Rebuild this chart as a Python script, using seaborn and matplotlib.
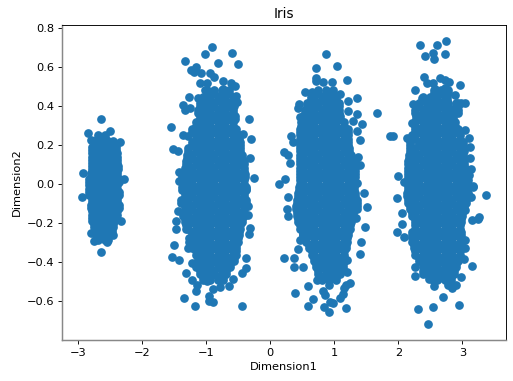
import pandas as pd
import seaborn as sns
import matplotlib.pyplot as plt

# loose points around each group
edge_x = [
    -2.63, -2.84, -2.49, -2.79, -2.34, -2.92, -2.28, -2.94, -2.32, -2.745, -2.55, -2.63, -2.45, -2.79,
    -0.90, -1.016, -0.60, -1.333, -0.81, -0.495, -1.234, -1.15, -1.19, -1.07, -0.94, -0.87, -1.10, -0.99,
    -0.734, -0.61, -0.547, -1.016, -0.73, -0.66, -0.536, -0.52, -1.26, -1.354, -1.33, -1.25, -1.12, -0.333,
    -1.55, -1.354, -1.277, -0.30, -0.417, -1.51, -1.43, -0.3125, -0.245, -1.42, -1.42,
    -0.37, -0.35, -0.34, -0.317, -0.328, -1.43, -1.47, -1.46, -1.50, -1.286, -1.526, -1.427, -0.38, -0.38,
    -0.432, -0.573, -1.31, -1.22, -1.135, -1.156, -0.99, -0.635, -0.78, -0.886, -0.948, -1.35, -0.886,
    -0.953, -1.167, -0.432, -1.22,
    0.865, 0.714, 1.042, 0.714, 0.714, 0.833, 0.964, 1.193, 0.542, 0.651, 1.36, 1.219, 1.094, 0.453, 0.443,
    1.219, 1.36, 1.661, 1.286, 1.432, 1.354, 0.469, 0.323, 0.365, 1.406, 1.875, 0.224, 0.286, 0.318, 1.37,
    1.406, 0.229, 0.135, 1.354, 1.458, 1.51, 0.281, 0.271, 0.276, 1.344, 1.474, 1.417, 1.396, 0.469, 0.432,
    0.224, 0.375, 0.375, 0.521, 0.599, 0.391, 0.667, 0.599, 0.839, 0.927, 1.177, 0.9375, 0.974, 1.094, 1.13,
    1.146, 1.25, 1.1875, 0.859, 0.818, 0.927, 0.729, 1.198, 1.198,
    2.333, 2.599, 2.75, 2.724, 2.537, 2.422, 2.552, 2.396, 2.656, 2.787, 2.734, 2.958, 2.448, 2.537, 2.734,
    2.266, 2.88, 2.578, 2.224, 3.047, 2.985, 2.37, 1.912, 3.047, 3.11, 2.135, 3.125, 3.125, 3.141, 3.10,
    1.995, 3.161, 2.083, 2.214,
    3.375, 3.161, 3.141, 1.979, 2.057, 3.255, 3.245, 3.151, 3.047, 2.057, 1.979, 2.083, 3.047, 3.047, 3.02,
    3.151, 2.985, 2.266, 2.255, 2.484, 2.552, 2.62, 2.771, 2.839, 2.906, 2.703, 2.537, 2.307, 2.948, 2.458,
]
edge_y = [
    0.33, 0.263, 0.272, 0.226, 0.214, 0.055, 0.026, -0.067, -0.191, -0.291, -0.30, -0.35, -0.262, -0.25,
    0.70, 0.663, 0.672, 0.631, 0.617, 0.614, 0.585, 0.598, 0.573, 0.568, 0.568, 0.55, 0.516, 0.516,
    0.528, 0.516, 0.503, 0.482, 0.485, 0.468, 0.451, 0.422, 0.443, 0.405, 0.38, 0.391, 0.44, 0.335,
    0.289, 0.25, 0.246, 0.229, 0.256, 0.179, 0.166, 0.132, 0.029, 0.063, 0.017,
    -0.027, -0.113, -0.159, -0.227, -0.258, -0.137, -0.19, -0.229, -0.311, -0.328, -0.376, -0.391, -0.378, -0.432,
    -0.458, -0.486, -0.458, -0.492, -0.516, -0.55, -0.496, -0.525, -0.527, -0.54, -0.573, -0.586, -0.604,
    -0.60, -0.627, -0.624, -0.407,
    0.663, 0.596, 0.602, 0.542, 0.525, 0.523, 0.523, 0.53, 0.472, 0.472, 0.44, 0.426, 0.462, 0.41, 0.391,
    0.371, 0.356, 0.362, 0.32, 0.306, 0.272, 0.342, 0.243, 0.217, 0.226, 0.246, 0.163, 0.146, 0.106, 0.14,
    0.098, 0.026, 0.002, 0.007, -0.048, -0.116, -0.065, -0.13, -0.162, -0.176, -0.22, -0.30, -0.357, -0.287, -0.335,
    -0.381, -0.381, -0.424, -0.427, -0.523, -0.561, -0.59, -0.624, -0.631, -0.657, -0.636, -0.603, -0.612, -0.586, -0.566,
    -0.535, -0.506, -0.52, -0.57, -0.547, -0.518, -0.492, -0.39, -0.45,
    0.709, 0.713, 0.73, 0.667, 0.67, 0.656, 0.639, 0.55, 0.542, 0.52, 0.53, 0.506, 0.516, 0.516, 0.49,
    0.482, 0.456, 0.485, 0.41, 0.414, 0.414, 0.44, 0.246, 0.277, 0.234, 0.234, 0.19, 0.132, 0.075, 0.046,
    0.041, -0.01, 0.012, 0.31,
    -0.056, -0.014, -0.068, -0.073, -0.15, -0.168, -0.18, -0.185, -0.133, -0.207, -0.248, -0.27, -0.287, -0.33, -0.386,
    -0.42, -0.475, -0.427, -0.47, -0.489, -0.523, -0.489, -0.518, -0.535, -0.516, -0.578, -0.633, -0.641, -0.62, -0.716,
]

# the solid middle of the groups, rows of estimated positions (single points can't be told apart there)
small_y = [0.25, 0.22, 0.19, 0.157, 0.124, 0.091, 0.058, 0.025, -0.008, -0.041, -0.074, -0.107, -0.14, -0.173, -0.206, -0.239, -0.272]
small_y2 = [0.235, 0.205, 0.174, 0.14, 0.108, 0.075, 0.042, 0.008, -0.025, -0.058, -0.09, -0.124, -0.157, -0.19, -0.222, -0.255, -0.285]
small_x = [
    [-2.68, -2.58],
    [-2.73, -2.63, -2.53, -2.45],
    [-2.78, -2.68, -2.58, -2.48, -2.41],
    [-2.78, -2.73, -2.63, -2.53, -2.43, -2.39],
    [-2.78, -2.68, -2.58, -2.48, -2.39],
    [-2.78, -2.73, -2.63, -2.53, -2.43, -2.37],
    [-2.80, -2.68, -2.58, -2.48, -2.38],
    [-2.82, -2.73, -2.63, -2.53, -2.43, -2.35],
    [-2.83, -2.78, -2.68, -2.58, -2.48, -2.38],
    [-2.83, -2.73, -2.63, -2.53, -2.43, -2.36],
    [-2.78, -2.68, -2.58, -2.48, -2.38],
    [-2.79, -2.73, -2.63, -2.53, -2.43, -2.36],
    [-2.78, -2.68, -2.58, -2.48, -2.39],
    [-2.78, -2.73, -2.63, -2.53, -2.43],
    [-2.74, -2.68, -2.58, -2.48, -2.45],
    [-2.73, -2.63, -2.53, -2.47],
    [-2.68, -2.58, -2.52],
]

row_y = [0.48, 0.447, 0.414, 0.381, 0.348, 0.315, 0.282, 0.249, 0.216, 0.183, 0.15, 0.117, 0.084, 0.051, 0.018,
         -0.015, -0.048, -0.081, -0.114, -0.147, -0.18, -0.213, -0.246, -0.279, -0.312, -0.345, -0.378, -0.411, -0.444, -0.477]
row_y2 = [0.464, 0.43, 0.398, 0.365, 0.332, 0.298, 0.266, 0.232, 0.2, 0.166, 0.134, 0.1, 0.068, 0.034, 0.002,
          -0.032, -0.064, -0.098, -0.13, -0.164, -0.196, -0.23, -0.262, -0.296, -0.328, -0.362, -0.394, -0.428, -0.46, -0.49]
left_x = [
    [-0.985, -0.87, -0.755, -0.64],
    [-1.045, -0.93, -0.815, -0.70, -0.585],
    [-1.10, -0.985, -0.87, -0.755, -0.64, -0.56],
    [-1.13, -1.045, -0.93, -0.815, -0.70, -0.585],
    [-1.10, -0.985, -0.87, -0.755, -0.64, -0.54],
    [-1.16, -1.045, -0.93, -0.815, -0.70, -0.585],
    [-1.215, -1.10, -0.985, -0.87, -0.755, -0.64, -0.535],
    [-1.16, -1.045, -0.93, -0.815, -0.70, -0.585, -0.49],
    [-1.215, -1.10, -0.985, -0.87, -0.755, -0.64, -0.525, -0.47],
    [-1.275, -1.16, -1.045, -0.93, -0.815, -0.70, -0.585, -0.47],
    [-1.30, -1.215, -1.10, -0.985, -0.87, -0.755, -0.64, -0.525, -0.43],
    [-1.31, -1.275, -1.16, -1.045, -0.93, -0.815, -0.70, -0.585, -0.47, -0.41],
    [-1.33, -1.215, -1.10, -0.985, -0.87, -0.755, -0.64, -0.525, -0.41],
    [-1.37, -1.275, -1.16, -1.045, -0.93, -0.815, -0.70, -0.585, -0.47, -0.39],
    [-1.33, -1.215, -1.10, -0.985, -0.87, -0.755, -0.64, -0.525, -0.41],
    [-1.38, -1.275, -1.16, -1.045, -0.93, -0.815, -0.70, -0.585, -0.47, -0.38],
    [-1.33, -1.215, -1.10, -0.985, -0.87, -0.755, -0.64, -0.525, -0.41],
    [-1.39, -1.275, -1.16, -1.045, -0.93, -0.815, -0.70, -0.585, -0.47, -0.38],
    [-1.33, -1.215, -1.10, -0.985, -0.87, -0.755, -0.64, -0.525, -0.41],
    [-1.36, -1.275, -1.16, -1.045, -0.93, -0.815, -0.70, -0.585, -0.47, -0.40],
    [-1.33, -1.215, -1.10, -0.985, -0.87, -0.755, -0.64, -0.525, -0.44],
    [-1.31, -1.275, -1.16, -1.045, -0.93, -0.815, -0.70, -0.585, -0.47],
    [-1.215, -1.10, -0.985, -0.87, -0.755, -0.64, -0.525, -0.48],
    [-1.26, -1.16, -1.045, -0.93, -0.815, -0.70, -0.585, -0.50],
    [-1.215, -1.10, -0.985, -0.87, -0.755, -0.64, -0.525],
    [-1.16, -1.045, -0.93, -0.815, -0.70, -0.585, -0.53],
    [-1.13, -1.10, -0.985, -0.87, -0.755, -0.64, -0.56],
    [-1.16, -1.045, -0.93, -0.815, -0.70, -0.62],
    [-1.10, -0.985, -0.87, -0.755, -0.68],
    [-1.045, -0.93, -0.815, -0.74],
]
middle_x = [
    [0.75, 0.865, 0.98],
    [0.64, 0.69, 0.805, 0.92, 1.035],
    [0.58, 0.635, 0.75, 0.865, 0.98, 1.07],
    [0.55, 0.575, 0.69, 0.805, 0.92, 1.035, 1.08],
    [0.52, 0.635, 0.75, 0.865, 0.98, 1.095],
    [0.49, 0.575, 0.69, 0.805, 0.92, 1.035, 1.15],
    [0.46, 0.52, 0.635, 0.75, 0.865, 0.98, 1.095, 1.21],
    [0.46, 0.575, 0.69, 0.805, 0.92, 1.035, 1.15, 1.22],
    [0.47, 0.52, 0.635, 0.75, 0.865, 0.98, 1.095, 1.21],
    [0.47, 0.575, 0.69, 0.805, 0.92, 1.035, 1.15, 1.23],
    [0.46, 0.52, 0.635, 0.75, 0.865, 0.98, 1.095, 1.21, 1.27],
    [0.46, 0.575, 0.69, 0.805, 0.92, 1.035, 1.15, 1.265, 1.33],
    [0.46, 0.52, 0.635, 0.75, 0.865, 0.98, 1.095, 1.21, 1.325],
    [0.46, 0.575, 0.69, 0.805, 0.92, 1.035, 1.15, 1.265, 1.32],
    [0.46, 0.52, 0.635, 0.75, 0.865, 0.98, 1.095, 1.21, 1.31],
    [0.45, 0.575, 0.69, 0.805, 0.92, 1.035, 1.15, 1.265, 1.31],
    [0.43, 0.52, 0.635, 0.75, 0.865, 0.98, 1.095, 1.21, 1.325],
    [0.42, 0.46, 0.575, 0.69, 0.805, 0.92, 1.035, 1.15, 1.265, 1.35],
    [0.41, 0.52, 0.635, 0.75, 0.865, 0.98, 1.095, 1.21, 1.325, 1.36],
    [0.42, 0.46, 0.575, 0.69, 0.805, 0.92, 1.035, 1.15, 1.265, 1.30],
    [0.43, 0.52, 0.635, 0.75, 0.865, 0.98, 1.095, 1.21, 1.26],
    [0.47, 0.575, 0.69, 0.805, 0.92, 1.035, 1.15, 1.24],
    [0.51, 0.52, 0.635, 0.75, 0.865, 0.98, 1.095, 1.21],
    [0.56, 0.69, 0.805, 0.92, 1.035, 1.15, 1.20],
    [0.61, 0.635, 0.75, 0.865, 0.98, 1.095, 1.18],
    [0.65, 0.69, 0.805, 0.92, 1.035, 1.15],
    [0.69, 0.75, 0.865, 0.98, 1.095, 1.15],
    [0.72, 0.805, 0.92, 1.035, 1.13],
    [0.75, 0.865, 0.98, 1.095],
    [0.805, 0.92, 1.035],
]
right_x = [
    [2.55, 2.67, 2.78],
    [2.38, 2.495, 2.61, 2.725, 2.76],
    [2.32, 2.44, 2.55, 2.67, 2.78, 2.90, 2.93],
    [2.265, 2.38, 2.495, 2.61, 2.725, 2.84, 2.93],
    [2.28, 2.32, 2.44, 2.55, 2.67, 2.78, 2.85],
    [2.265, 2.38, 2.495, 2.61, 2.725, 2.84, 2.89],
    [2.255, 2.32, 2.44, 2.55, 2.67, 2.78, 2.90, 2.93],
    [2.22, 2.265, 2.38, 2.495, 2.61, 2.725, 2.84, 2.955],
    [2.19, 2.32, 2.44, 2.55, 2.67, 2.78, 2.90, 3.01],
    [2.18, 2.265, 2.38, 2.495, 2.61, 2.725, 2.84, 2.955, 3.03],
    [2.16, 2.21, 2.32, 2.44, 2.55, 2.67, 2.78, 2.90, 3.01],
    [2.15, 2.265, 2.38, 2.495, 2.61, 2.725, 2.84, 2.955, 3.03],
    [2.15, 2.21, 2.32, 2.44, 2.55, 2.67, 2.78, 2.90, 3.01, 3.04],
    [2.15, 2.265, 2.38, 2.495, 2.61, 2.725, 2.84, 2.955, 3.07],
    [2.15, 2.21, 2.32, 2.44, 2.55, 2.67, 2.78, 2.90, 3.01, 3.08],
    [2.15, 2.265, 2.38, 2.495, 2.61, 2.725, 2.84, 2.955, 3.07],
    [2.13, 2.21, 2.32, 2.44, 2.55, 2.67, 2.78, 2.90, 3.01, 3.08],
    [2.15, 2.265, 2.38, 2.495, 2.61, 2.725, 2.84, 2.955, 3.06],
    [2.177, 2.21, 2.32, 2.44, 2.55, 2.67, 2.78, 2.90, 3.01, 3.03],
    [2.21, 2.265, 2.38, 2.495, 2.61, 2.725, 2.84, 2.955, 3.00],
    [2.255, 2.32, 2.44, 2.55, 2.67, 2.78, 2.90, 2.98],
    [2.265, 2.38, 2.495, 2.61, 2.725, 2.84, 2.955],
    [2.21, 2.32, 2.44, 2.55, 2.67, 2.78, 2.90, 2.98],
    [2.22, 2.265, 2.38, 2.495, 2.61, 2.725, 2.84, 2.955],
    [2.25, 2.32, 2.44, 2.55, 2.67, 2.78, 2.90, 2.98],
    [2.265, 2.38, 2.495, 2.61, 2.725, 2.84, 2.955],
    [2.32, 2.44, 2.55, 2.67, 2.78, 2.90, 2.93],
    [2.38, 2.495, 2.61, 2.725, 2.84, 2.90],
    [2.39, 2.44, 2.55, 2.67, 2.78, 2.875],
    [2.54, 2.61, 2.725, 2.82],
]


def rows_to_frame(ys, xs):
    return pd.DataFrame({'Dimension2': ys, 'Dimension1': xs}).explode('Dimension1')


pontos = pd.concat([
    pd.DataFrame({'Dimension1': edge_x, 'Dimension2': edge_y}),
    rows_to_frame(small_y, small_x),
    rows_to_frame(small_y2, small_x),
    rows_to_frame(row_y, left_x),
    rows_to_frame(row_y2, left_x),
    rows_to_frame(row_y, middle_x),
    rows_to_frame(row_y2, middle_x),
    rows_to_frame(row_y, right_x),
    rows_to_frame(row_y2, right_x),
], ignore_index=True)
pontos['Dimension1'] = pontos['Dimension1'].astype(float)

fig = plt.figure(figsize=(513.01 / 82, 381.01 / 82), dpi=82)
ax = fig.add_axes([62 / 513, 41.3 / 381, 444 / 513, 314.7 / 381])
sns.scatterplot(data=pontos, x='Dimension1', y='Dimension2', s=40, color='#1f77b4', edgecolor='#1f77b4', linewidth=1.3, ax=ax)
ax.set_xlim(-3.245, 3.68)
ax.set_ylim(-0.798, 0.814)
ax.set_title('Iris')
ax.set_xlabel('Dimension1')
ax.set_ylabel('Dimension2')

# left and bottom spines look softer and greyer in the picture
for lado in ['left', 'bottom']:
    ax.spines[lado].set_color('#888888')
    ax.spines[lado].set_linewidth(1.3)

fig.savefig('out.png', dpi=82)
